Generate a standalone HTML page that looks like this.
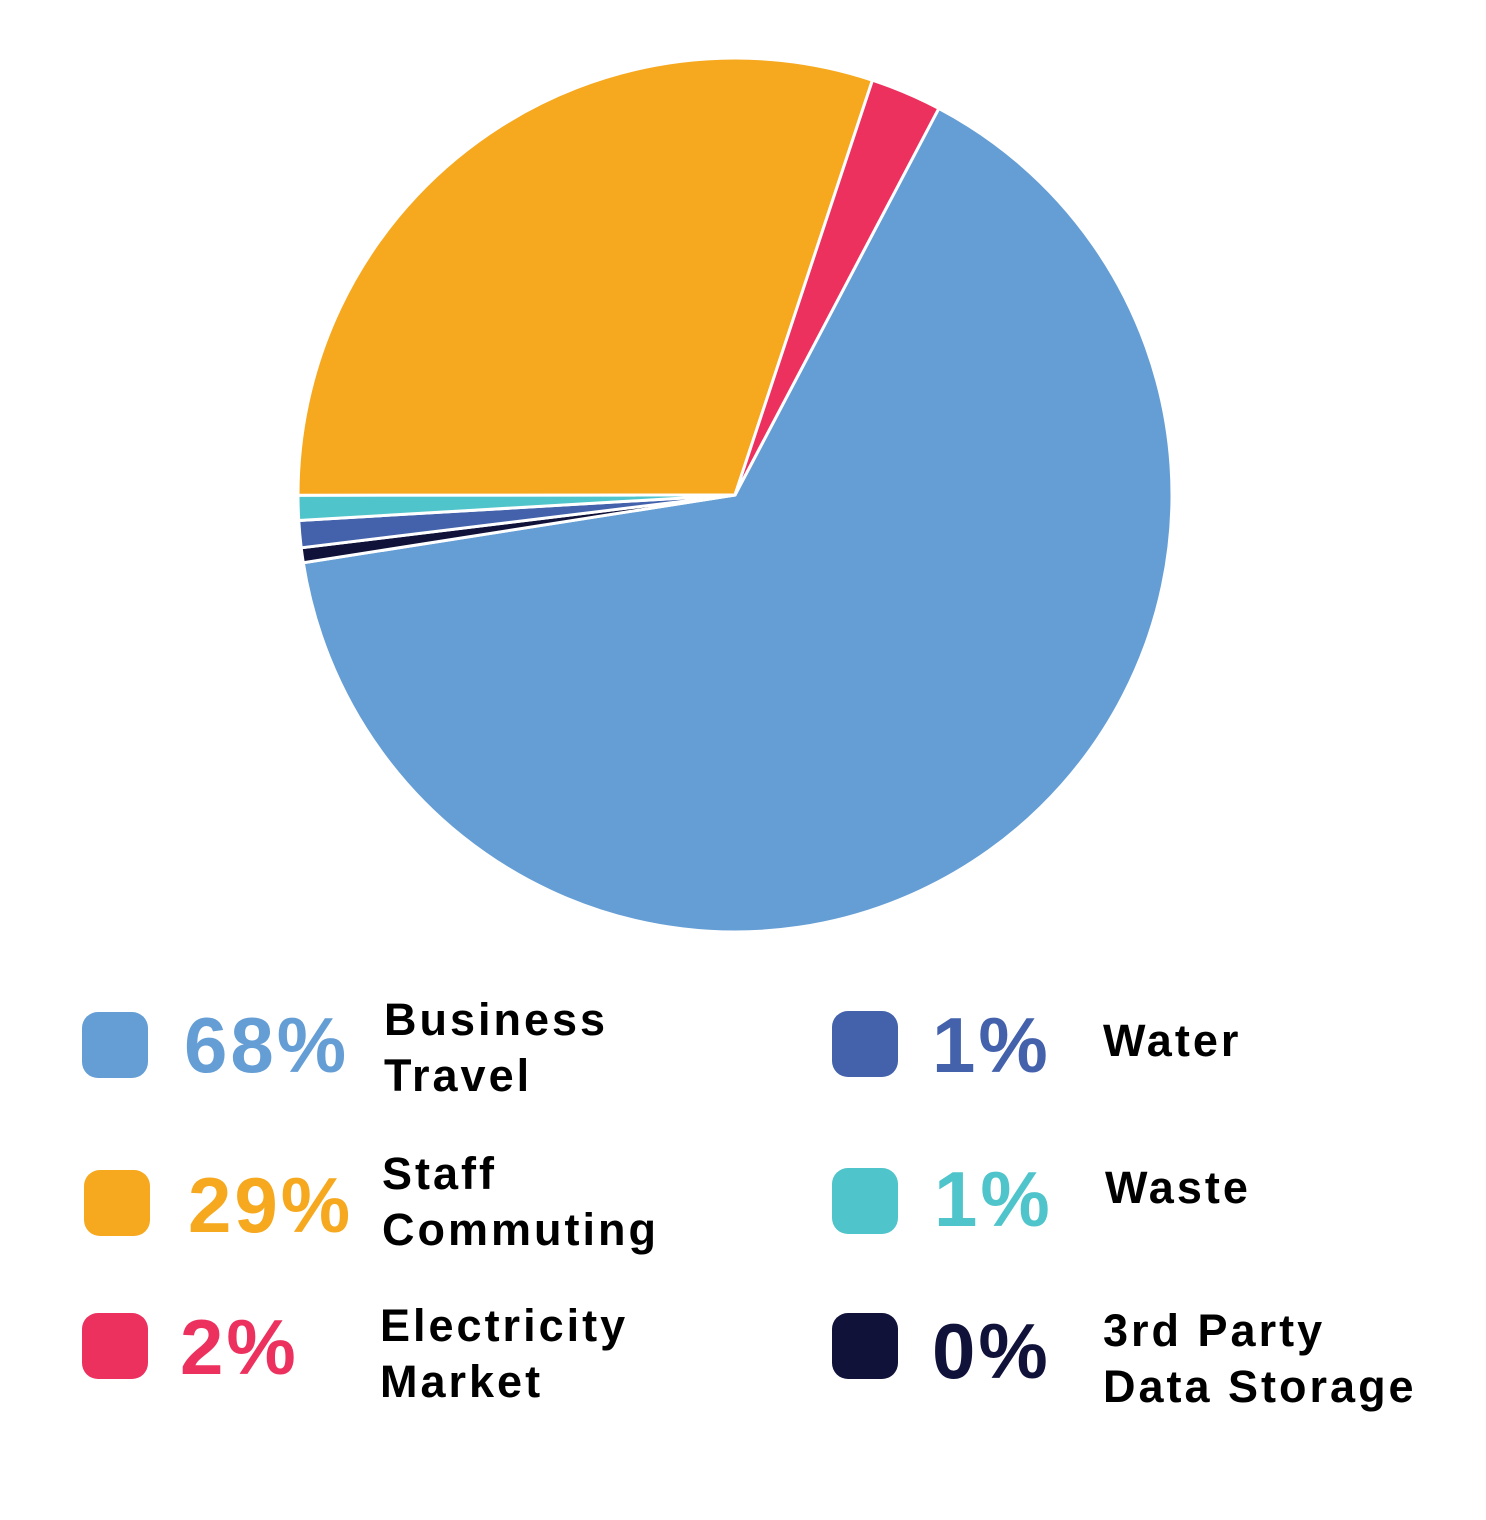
<!DOCTYPE html>
<html><head><meta charset="utf-8"><style>
body{margin:0;background:#fff;width:1486px;height:1520px;overflow:hidden;font-family:"Liberation Sans",sans-serif;}
.sw{position:absolute;width:66px;height:66px;border-radius:16px;}
.pct{position:absolute;font-weight:bold;font-size:78px;line-height:1;letter-spacing:3px;}
.lab{position:absolute;font-weight:bold;font-size:45px;line-height:56px;color:#000;letter-spacing:3px;}
</style></head><body>
<svg id="pie" width="1486" height="960" style="position:absolute;left:0;top:0"></svg>

<div class="sw" style="left:82px;top:1012px;background:#659ED5"></div>
<div class="pct" style="left:184px;top:1006px;color:#659ED5">68%</div>
<div class="lab" style="left:384px;top:992px">Business<br>Travel</div>

<div class="sw" style="left:84px;top:1170px;background:#F6A81E"></div>
<div class="pct" style="left:188px;top:1166px;color:#F6A81E">29%</div>
<div class="lab" style="left:382px;top:1146px">Staff<br>Commuting</div>

<div class="sw" style="left:82px;top:1313px;background:#EC315E"></div>
<div class="pct" style="left:180px;top:1308px;color:#EC315E">2%</div>
<div class="lab" style="left:380px;top:1298px">Electricity<br>Market</div>

<div class="sw" style="left:832px;top:1011px;background:#4462AC"></div>
<div class="pct" style="left:932px;top:1006px;color:#4462AC">1%</div>
<div class="lab" style="left:1103px;top:1013px">Water</div>

<div class="sw" style="left:832px;top:1168px;background:#4FC4CA"></div>
<div class="pct" style="left:934px;top:1160px;color:#4FC4CA">1%</div>
<div class="lab" style="left:1105px;top:1160px">Waste</div>

<div class="sw" style="left:832px;top:1313px;background:#10123A"></div>
<div class="pct" style="left:932px;top:1312px;color:#10123A">0%</div>
<div class="lab" style="left:1103px;top:1303px">3rd Party<br>Data Storage</div>

<script>
const categories=["Business Travel","3rd Party Data Storage","Water","Waste","Staff Commuting","Electricity Market"];
const values=[64.8,0.55,1.0,0.92,30.1,2.63];
const colors=["#659ED5","#10123A","#4462AC","#4FC4CA","#F6A81E","#EC315E"];
const cx=735,cy=495,r=437,startDeg=27.8;
const svg=document.getElementById('pie');
const total=values.reduce((a,b)=>a+b,0);
function pt(deg){const a=(deg-90)*Math.PI/180;return [cx+r*Math.cos(a),cy+r*Math.sin(a)];}
let ang=startDeg;
values.forEach((v,i)=>{
  const sweep=v/total*360;
  const p1=pt(ang),p2=pt(ang+sweep);
  const large=sweep>180?1:0;
  const path=document.createElementNS('http://www.w3.org/2000/svg','path');
  path.setAttribute('d',`M${cx},${cy} L${p1[0]},${p1[1]} A${r},${r} 0 ${large} 1 ${p2[0]},${p2[1]} Z`);
  path.setAttribute('fill',colors[i]);
  path.setAttribute('stroke','#fff');
  path.setAttribute('stroke-width','3');
  path.setAttribute('stroke-linejoin','round');
  
  
  svg.appendChild(path);
  ang+=sweep;
});
</script>
</body></html>
